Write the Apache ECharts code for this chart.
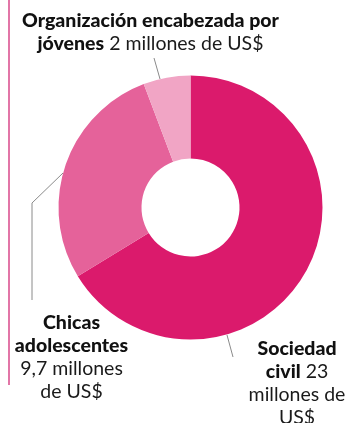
<!DOCTYPE html>
<html>
<head>
<meta charset="utf-8">
<script src="https://cdn.jsdelivr.net/npm/echarts@6/dist/echarts.min.js"></script>
<style>
  html, body { margin: 0; padding: 0; background: #fff; }
  #chart { width: 363px; height: 423px; }
</style>
</head>
<body>
<div id="chart"></div>
<script>
  'use strict'

  /*-----data-----*/
  var categories = ['Sociedad civil', 'Chicas adolescentes', 'Organización encabezada por jóvenes'];
  var values = [23, 9.7, 2];
  var boldLines = [['Sociedad', 'civil'], ['Chicas', 'adolescentes'], ['Organización encabezada por', 'jóvenes']];
  var amountLines = [['23', 'millones de', 'US$'], ['', '9,7 millones', 'de US$'], ['2 millones de US$']];
  var colors = ['#db1a6c', '#e5629a', '#f1a5c5'];

  // where each label block sits (center of block)
  var labelPos = [
    { x: 297, y: 383 },
    { x: 71.5, y: 357.5 },
    { x: 150.5, y: 32.5 }
  ];

  function labelText(i) {
    var b = boldLines[i], a = amountLines[i];
    var out = [];
    for (var k = 0; k < b.length - 1; k++) out.push('{b|' + b[k] + '}');
    var last = '{b|' + b[b.length - 1] + '}';
    if (a[0]) last += '{n| ' + a[0] + '}';
    out.push(last);
    for (var j = 1; j < a.length; j++) out.push('{n|' + a[j] + '}');
    return out.join('\n');
  }

  var pieData = values.map(function (v, i) {
    return { value: v, name: categories[i], itemStyle: { color: colors[i] } };
  });

  var option = {
    animation: false,
    series: [{
      type: 'pie',
      center: [190.5, 207.5],
      radius: [49, 132],
      startAngle: 90,
      clockwise: true,
      avoidLabelOverlap: false,
      data: pieData,
      label: {
        show: true,
        position: 'outside',
        overflow: 'none',
        formatter: function (p) { return labelText(p.dataIndex); },
        rich: {
          b: { fontFamily: 'Lato', fontWeight: 900, fontSize: 19.5, color: '#111', lineHeight: 23, align: 'center' },
          n: { fontFamily: 'Lato', fontWeight: 400, fontSize: 19.5, color: '#1a1a1a', lineHeight: 23, align: 'center' }
        }
      },
      labelLine: { show: false },
      labelLayout: function (p) {
        var pos = labelPos[p.dataIndex];
        return { x: pos.x, y: pos.y, align: 'center', verticalAlign: 'middle', hideOverlap: false };
      },
      emphasis: { disabled: true }
    }],
    graphic: [
      // left rule
      { type: 'line', shape: { x1: 9, y1: 0, x2: 9, y2: 385 }, style: { stroke: '#d9498a', lineWidth: 1.5 } },
      // leader lines
      { type: 'polyline', shape: { points: [[154, 58], [160, 79]] }, style: { stroke: '#8a8a8a', lineWidth: 1, fill: null } },
      { type: 'polyline', shape: { points: [[63, 173], [32, 203], [32, 300]] }, style: { stroke: '#8a8a8a', lineWidth: 1, fill: null } },
      { type: 'polyline', shape: { points: [[227, 335], [233, 357]] }, style: { stroke: '#8a8a8a', lineWidth: 1, fill: null } }
    ]
  };

  var chart = echarts.init(document.getElementById('chart'));
  chart.setOption(option);
</script>
</body>
</html>
